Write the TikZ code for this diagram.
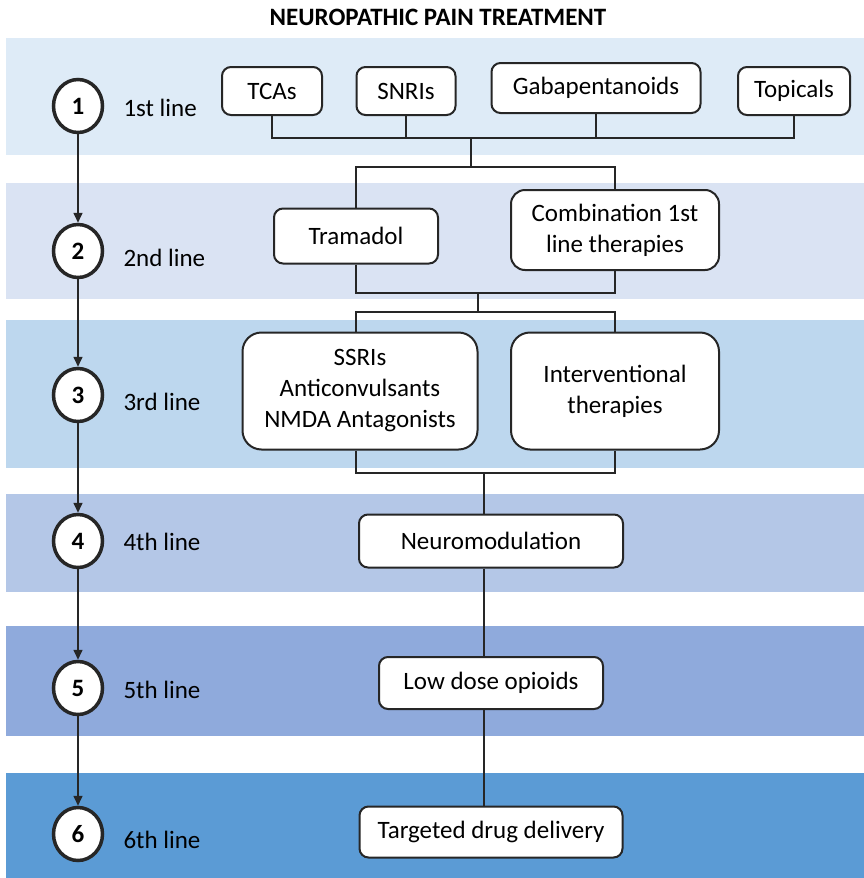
\documentclass[tikz,border=0pt]{standalone}
\usepackage{fontspec}
\setmainfont{Carlito}
\usetikzlibrary{arrows.meta, shapes.geometric}

\definecolor{bandA}{HTML}{DEEBF7}
\definecolor{bandB}{HTML}{DAE3F3}
\definecolor{bandC}{HTML}{BDD7EE}
\definecolor{bandD}{HTML}{B4C7E7}
\definecolor{bandE}{HTML}{8FAADC}
\definecolor{bandF}{HTML}{5B9BD5}
\definecolor{linegray}{HTML}{262626}

\begin{document}
\begin{tikzpicture}[x=1pt, y=-1pt,
    every node/.style={font=\fontsize{25}{31}\selectfont, text=black},
    drug/.style={draw=linegray, line width=2pt, rounded corners=9pt, fill=white, align=center, inner sep=0pt},
    stepnum/.style={ellipse, draw=linegray, line width=3.5pt, fill=white, minimum width=49pt, minimum height=53pt, inner sep=0pt, font=\fontsize{25}{31}\selectfont\bfseries},
    level/.style={anchor=west},
    link/.style={draw=linegray, line width=1.6pt},
    flow/.style={link, -{Triangle[length=10pt,width=9pt]}}]
    \useasboundingbox (0,0) rectangle (864,878);

    %––––– bands –––––
    \fill[bandA] (6,38) rectangle (864,155);
    \fill[bandB] (6,183) rectangle (864,299);
    \fill[bandC] (6,320) rectangle (864,468);
    \fill[bandD] (6,494) rectangle (864,592);
    \fill[bandE] (6,626) rectangle (864,736);
    \fill[bandF] (6,773) rectangle (864,878);

    \node (title) at (438,17) {\bfseries NEUROPATHIC PAIN TREATMENT};

    %––––– row 1 –––––
    \node[stepnum] (n1) at (78,106) {1};
    \node[level] (l1) at (120,108) {1st line};
    \node[drug, minimum width=100pt, minimum height=48pt] (tca) at (272,91) {TCAs};
    \node[drug, minimum width=99pt, minimum height=48pt] (snri) at (406,91) {SNRIs};
    \node[drug, minimum width=209pt, minimum height=50pt] (gaba) at (596,88) {Gabapentanoids};
    \node[drug, minimum width=112pt, minimum height=48pt] (topic) at (794,91) {Topicals};
    \coordinate (j1) at (471,138);
    \draw[link] (tca) -- (tca |- j1) -- (topic |- j1) -- (topic);
    \draw[link] (snri) -- (snri |- j1);
    \draw[link] (gaba) -- (gaba |- j1);

    %––––– row 2 –––––
    \node[stepnum] (n2) at (78,251) {2};
    \node[level] (l2) at (120,258) {2nd line};
    \node[drug, minimum width=164pt, minimum height=55pt] (tram) at (356,236) {Tramadol};
    \node[drug, rounded corners=14pt, minimum width=208pt, minimum height=80pt] (combo) at (615,230) {Combination 1st\\line therapies};
    \coordinate (j2) at (471,167);
    \draw[link] (j1) -- (j2);
    \draw[link] (tram) -- (tram |- j2) -- (combo |- j2) -- (combo);
    \coordinate (j3) at (478,293);
    \draw[link] (tram) -- (tram |- j3) -- (combo |- j3) -- (combo);
    \draw[flow] (n1) -- (n2);

    %––––– row 3 –––––
    \node[stepnum] (n3) at (78,395) {3};
    \node[level] (l3) at (120,402) {3rd line};
    \node[drug, rounded corners=19pt, minimum width=235pt, minimum height=117pt] (ssri) at (360,391) {SSRIs\\Anticonvulsants\\NMDA Antagonists};
    \node[drug, rounded corners=19pt, minimum width=208pt, minimum height=117pt] (interv) at (615,391) {Interventional\\therapies};
    \coordinate (j4) at (478,312);
    \draw[link] (j3) -- (j4);
    \draw[link] (tram |- ssri.north) -- (tram |- j4) -- (combo |- j4) -- (combo |- interv.north);
    \coordinate (j5) at (484,473);
    \draw[link] (tram |- ssri.south) -- (tram |- j5) -- (combo |- j5) -- (combo |- interv.south);
    \draw[flow] (n2) -- (n3);

    %––––– row 4 –––––
    \node[stepnum] (n4) at (78,541) {4};
    \node[level] (l4) at (120,542) {4th line};
    \node[drug, minimum width=264pt, minimum height=53pt] (neuro) at (491,541) {Neuromodulation};
    \draw[link] (j5) -- (j5 |- neuro.north);
    \draw[flow] (n3) -- (n4);

    %––––– row 5 –––––
    \node[stepnum] (n5) at (78,688) {5};
    \node[level] (l5) at (120,690) {5th line};
    \node[drug, minimum width=224pt, minimum height=52pt] (opioid) at (491,683) {Low dose opioids};
    \draw[link] (j5 |- neuro.south) -- (j5 |- opioid.north);
    \draw[flow] (n4) -- (n5);

    %––––– row 6 –––––
    \node[stepnum] (n6) at (78,834) {6};
    \node[level] (l6) at (120,840) {6th line};
    \node[drug, minimum width=263pt, minimum height=51pt] (tdd) at (491,832) {Targeted drug delivery};
    \draw[link] (j5 |- opioid.south) -- (j5 |- tdd.north);
    \draw[flow] (n5) -- (n6);
\end{tikzpicture}
\end{document}
